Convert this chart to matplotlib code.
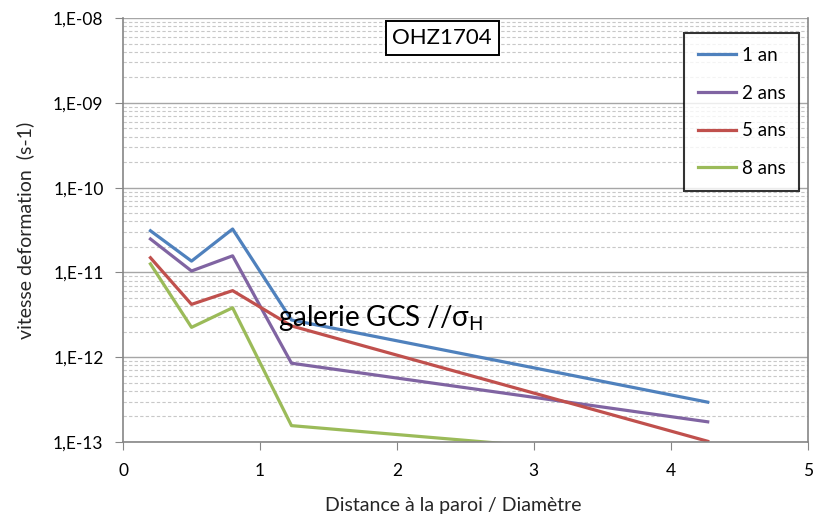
import math
import matplotlib.pyplot as plt
from matplotlib.ticker import LogLocator, FixedLocator, FuncFormatter, NullFormatter

plt.rcParams['font.family'] = ['Lato', 'DejaVu Sans']

# distance / diameter
x = [0.2, 0.5, 0.8, 1.23, 4.27]

# strain rate (s-1)
an1 = [3.1e-11, 1.36e-11, 3.25e-11, 2.75e-12, 2.95e-13]
ans2 = [2.48e-11, 1.04e-11, 1.57e-11, 8.5e-13, 1.73e-13]
ans5 = [1.49e-11, 4.2e-12, 6.1e-12, 2.34e-12, 1.02e-13]
ans8 = [1.26e-11, 2.25e-12, 3.83e-12, 1.56e-13, 6.0e-14]

labels = ['1 an', '2 ans', '5 ans', '8 ans']
colors = ['#4F81BD', '#8064A2', '#C0504D', '#9BBB59']

fig = plt.figure(figsize=(8.15, 5.16), dpi=100)
ax = fig.add_axes([0.151, 0.1434, 0.84, 0.8216])

for y, lab, c in zip([an1, ans2, ans5, ans8], labels, colors):
    ax.plot(x, y, color=c, lw=2.3, label=lab)

ax.set_yscale('log')
ax.set_ylim(1e-13, 1e-8)
ax.set_xlim(0, 5)
ax.set_xticks([0, 1, 2, 3, 4, 5])

ax.yaxis.set_major_locator(FixedLocator([1e-13, 1e-12, 1e-11, 1e-10, 1e-9, 1e-8]))
ax.yaxis.set_minor_locator(LogLocator(base=10, subs=range(2, 10), numticks=20))
ax.yaxis.set_minor_formatter(NullFormatter())
ax.yaxis.set_major_formatter(FuncFormatter(lambda v, p: '1,E-%02d' % round(-math.log10(v))))

ax.grid(True, which='major', axis='y', color='#a6a6a6', lw=1.0, ls='-')
ax.grid(True, which='minor', axis='y', color='#c8c8c8', lw=0.8, ls=(0, (3, 2)))
ax.set_axisbelow(True)

for s in ['left', 'bottom', 'right']:
    ax.spines[s].set_color('#868686')
    ax.spines[s].set_linewidth(1.2)
ax.spines['top'].set_visible(False)

ax.tick_params(axis='both', which='major', direction='out', length=6, color='#868686',
               labelsize=12.5)
ax.tick_params(axis='y', which='major', pad=8)
ax.tick_params(axis='x', which='major', pad=9)
ax.tick_params(axis='y', which='minor', length=0)

ax.set_xlabel('Distance à la paroi / Diamètre', fontsize=14, labelpad=14, color='#262626')
ax.xaxis.set_label_coords(0.482, -0.13)
ax.set_ylabel('vitesse deformation  (s-1)', fontsize=14, labelpad=14, color='#262626')

ax.text(1.13, 2.35e-12, r'galerie GCS //σ$_{\mathrm{H}}$', fontsize=20)
ax.text(2.33, 5.8e-9, 'OHZ1704', fontsize=16, ha='center', va='center',
        bbox=dict(boxstyle='square,pad=0.3', fc='white', ec='black', lw=1.4))

leg = ax.legend(loc='upper right', bbox_to_anchor=(0.988, 0.965), borderaxespad=0,
                fontsize=13.5, frameon=True, fancybox=False, edgecolor='black',
                handlelength=2.0, labelspacing=1.1, borderpad=0.75, handletextpad=0.3)
leg.get_frame().set_linewidth(1.5)

fig.savefig('out.png', dpi=100)
